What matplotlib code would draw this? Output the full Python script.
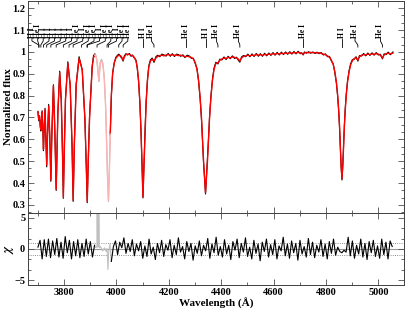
import numpy as np
import matplotlib.pyplot as plt
from matplotlib.ticker import MultipleLocator, AutoMinorLocator

plt.rcParams['font.family'] = ['Liberation Serif', 'DejaVu Serif']
plt.rcParams['font.weight'] = 'bold'
plt.rcParams['mathtext.fontset'] = 'stix'

# spectrum: wavelength, model fit (red), observed (black); nan = gap for excluded region
lam = [3701, 3704, 3707, 3710, 3712, 3714, 3717, 3720, 3722, 3724,
       3728, 3731, 3734.4, 3737, 3742, 3746, 3750.2, 3754, 3760, 3765,
       3768, 3770.6, 3773, 3777, 3784, 3790, 3795, 3797.9, 3801, 3806,
       3815, 3824, 3831, 3835.4, 3840, 3847, 3858, 3870, 3880, 3885,
       3889.1, 3893, 3898, 3908, 3913, 3918, np.nan,
       3977, 3981, 3986, 3992, 3998, 4004, 4010, 4016, 4021, 4026,
       4031, 4037, 4043, 4050, 4056, 4062, 4069, 4075, 4080, 4085,
       4090, 4094, 4097, 4099.5, 4101.7, 4104, 4107, 4110, 4114, 4119,
       4124, 4130, 4137, 4144, 4151, 4158, 4166, 4174, 4182, 4190,
       4198, 4206, 4214, 4222, 4230, 4238, 4246, 4254, 4262, 4270,
       4278, 4286, 4294, 4301, 4308, 4314, 4320, 4325, 4329, 4333,
       4337, 4340.5, 4344, 4348, 4352, 4356, 4361, 4367, 4373, 4380,
       4387.9, 4395, 4403, 4411, 4419, 4427, 4435, 4443, 4451, 4459,
       4465, 4471.5, 4478, 4486, 4494, 4502, 4510, 4518, 4526, 4534,
       4542, 4550, 4558, 4566, 4574, 4582, 4590, 4598, 4606, 4614,
       4622, 4630, 4638, 4646, 4654, 4662, 4670, 4678, 4686, 4694,
       4702, 4708, 4713, 4718, 4726, 4734, 4742, 4750, 4758, 4766,
       4774, 4782, 4790, 4798, 4806, 4814, 4821, 4828, 4834, 4840,
       4845, 4849, 4852, 4855, 4858, 4861.3, 4864.5, 4867.5, 4870.5, 4873.5,
       4877.5, 4882.5, 4888.5, 4894.5, 4901, 4908, 4915, 4921.9, 4928, 4936,
       4944, 4952, 4960, 4968, 4976, 4984, 4992, 5000, 5008, 5015.7,
       5022, 5030, 5038, 5046, 5056]
fit = [0.725, 0.690, 0.705, 0.660, 0.643, 0.680, 0.725, 0.640, 0.555, 0.620,
       0.735, 0.620, 0.483, 0.600, 0.752, 0.620, 0.414, 0.620, 0.845, 0.660,
       0.500, 0.372, 0.500, 0.720, 0.905, 0.780, 0.520, 0.335, 0.520, 0.780,
       0.948, 0.850, 0.580, 0.320, 0.580, 0.850, 0.970, 0.920, 0.700, 0.500,
       0.315, 0.500, 0.700, 0.930, 0.975, 0.985, np.nan,
       0.620, 0.800, 0.900, 0.950, 0.970, 0.980, 0.985, 0.983, 0.975, 0.962,
       0.978, 0.988, 0.990, 0.988, 0.985, 0.982, 0.975, 0.960, 0.930, 0.870,
       0.770, 0.650, 0.535, 0.420, 0.337, 0.420, 0.535, 0.650, 0.770, 0.870,
       0.930, 0.958, 0.967, 0.958, 0.972, 0.980, 0.983, 0.985, 0.982, 0.986,
       0.988, 0.985, 0.987, 0.984, 0.986, 0.983, 0.985, 0.982, 0.978, 0.980,
       0.978, 0.975, 0.968, 0.952, 0.920, 0.870, 0.790, 0.700, 0.600, 0.500,
       0.420, 0.356, 0.420, 0.500, 0.600, 0.700, 0.790, 0.870, 0.920, 0.948,
       0.950, 0.962, 0.968, 0.972, 0.970, 0.975, 0.973, 0.977, 0.975, 0.972,
       0.968, 0.958, 0.972, 0.980, 0.982, 0.985, 0.982, 0.986, 0.983, 0.988,
       0.985, 0.987, 0.984, 0.989, 0.986, 0.990, 0.988, 0.992, 0.989, 0.993,
       0.990, 0.994, 0.992, 0.995, 0.993, 0.996, 0.994, 0.997, 0.995, 0.998,
       0.996, 0.993, 0.990, 0.995, 0.998, 0.996, 0.998, 0.996, 0.997, 0.995,
       0.996, 0.993, 0.990, 0.987, 0.982, 0.975, 0.962, 0.942, 0.910, 0.862,
       0.800, 0.730, 0.660, 0.570, 0.480, 0.420, 0.480, 0.570, 0.660, 0.730,
       0.800, 0.862, 0.910, 0.942, 0.960, 0.970, 0.973, 0.962, 0.978, 0.985,
       0.988, 0.986, 0.990, 0.988, 0.991, 0.989, 0.992, 0.990, 0.985, 0.972,
       0.986, 0.992, 0.994, 0.991, 0.995]
obs = [0.728, 0.685, 0.708, 0.655, 0.638, 0.684, 0.731, 0.633, 0.548, 0.624,
       0.742, 0.615, 0.474, 0.604, 0.760, 0.615, 0.408, 0.626, 0.850, 0.655,
       0.494, 0.366, 0.505, 0.726, 0.912, 0.774, 0.513, 0.330, 0.525, 0.786,
       0.955, 0.846, 0.572, 0.316, 0.586, 0.855, 0.978, 0.915, 0.694, 0.494,
       0.310, 0.506, 0.707, 0.936, 0.982, 0.992, np.nan,
       0.626, 0.795, 0.905, 0.948, 0.975, 0.984, 0.990, 0.978, 0.972, 0.958,
       0.983, 0.992, 0.986, 0.993, 0.980, 0.986, 0.971, 0.963, 0.925, 0.866,
       0.764, 0.644, 0.529, 0.414, 0.332, 0.426, 0.541, 0.656, 0.776, 0.875,
       0.936, 0.963, 0.972, 0.952, 0.978, 0.985, 0.978, 0.990, 0.986, 0.981,
       0.993, 0.980, 0.992, 0.979, 0.990, 0.987, 0.980, 0.987, 0.974, 0.985,
       0.982, 0.971, 0.971, 0.947, 0.924, 0.866, 0.785, 0.695, 0.594, 0.494,
       0.414, 0.350, 0.426, 0.506, 0.606, 0.706, 0.796, 0.875, 0.926, 0.953,
       0.945, 0.967, 0.963, 0.977, 0.965, 0.980, 0.969, 0.982, 0.970, 0.976,
       0.963, 0.953, 0.977, 0.984, 0.978, 0.990, 0.978, 0.991, 0.979, 0.993,
       0.980, 0.992, 0.980, 0.994, 0.982, 0.995, 0.984, 0.997, 0.985, 0.998,
       0.986, 0.999, 0.988, 1.000, 0.989, 1.001, 0.990, 1.002, 0.991, 1.003,
       0.992, 0.996, 0.986, 1.000, 0.994, 1.001, 0.994, 1.000, 0.993, 0.999,
       0.992, 0.997, 0.986, 0.991, 0.978, 0.979, 0.958, 0.945, 0.905, 0.857,
       0.794, 0.724, 0.654, 0.564, 0.474, 0.414, 0.486, 0.576, 0.666, 0.736,
       0.806, 0.868, 0.915, 0.947, 0.965, 0.966, 0.978, 0.958, 0.983, 0.981,
       0.993, 0.982, 0.995, 0.984, 0.996, 0.985, 0.997, 0.986, 0.989, 0.968,
       0.991, 0.988, 0.999, 0.987, 1.000]

# region excluded from the fit (Ca II K + H epsilon), drawn pale
excl_lam = [3918, 3922, 3926, 3929, 3931, 3933.7, 3936, 3939, 3944, 3949,
            3954, 3959, 3963, 3966, 3970.1, 3973, 3977]
excl_fit = [0.985, 0.982, 0.960, 0.930, 0.900, 0.870, 0.905, 0.950, 0.960, 0.940,
            0.880, 0.760, 0.590, 0.450, 0.320, 0.430, 0.620]
excl_obs = [0.992, 0.985, 0.958, 0.925, 0.893, 0.865, 0.910, 0.955, 0.966, 0.945,
            0.884, 0.755, 0.585, 0.445, 0.315, 0.436, 0.626]

# residuals (chi) on an 8 A grid, nan inside excluded region
res_lam = np.arange(3701, 5054, 8)
res = [0.3, 1.4, -1.6, 1.5, -1.2, 1.6, -1.4, 1.3, -0.9, 1.7,
       -1.3, 1.1, -1.5, 2.0, -0.6, 1.4, -1.6, 1.2, -1.1, 1.5,
       -1.4, 0.9, -1.2, 1.6, -0.8, 1.2, -1.3, 0.6,
       np.nan, np.nan, np.nan, np.nan, np.nan, np.nan, np.nan,
       -2.0, 0.4, 1.3, -0.9, 1.1,
       0.2, 1.8, -0.7, 0.9, -0.4, 1.5, -1.1, 0.8, -0.3, 1.2,
       -1.5, 0.5, -1.2, 1.6, -0.8, 0.3, -1.7, 0.9, -0.6, 1.4,
       -1.2, 0.7, -0.2, 1.5, -1.4, 0.6, -0.9, 1.8, -0.5, 0.4,
       -1.6, 1.2, -0.4, 0.9, -1.8, 0.5, -0.7, 1.3, -1.1, 0.6,
       -0.3, 1.7, -1.5, 0.8, -0.6, 1.9, -1.0, 0.4, -1.3, 1.5,
       -0.8, 0.6, -1.7, 1.2, -0.2, 1.6, -1.4, 0.9, -0.5, 1.8,
       -1.2, 0.3, -1.6, 1.4, -0.7, 0.8, -1.9, 1.1, -0.4, 1.6,
       -1.3, 0.7, -0.9, 1.5, -1.6, 0.5, -0.3, 1.9, -1.1, 0.8,
       -1.5, 1.3, -0.6, 0.9, -1.8, 1.4, -0.8, 0.4, -1.3, 1.7,
       -0.9, 1.1, -1.4, 0.6, -0.5, 1.5, -1.2, 0.8, -1.6, 1.2,
       -0.7, 1.6, -1.0, 0.3, -0.4, -0.6, -0.2, -0.5, 1.9, -1.1,
       1.3, -1.5, 0.6, -0.8, 1.6, -1.3, 0.9, -1.7, 1.2, -0.6,
       1.4, -1.2, 0.5, -1.5, 1.6, -0.9, 1.1, -1.6, 1.3, 0.4]
excl_res_lam = [3917, 3922, 3926, 3927, 3929, 3932, 3933, 3935, 3940, 3948,
                3955, 3961, 3965, 3968, 3971, 3976, 3981]
excl_res = [0.6, 0.2, 0.4, 8.0, 0.3, 0.5, 8.0, 0.2, 0.4, -0.3,
            0.2, -0.4, 0.1, -3.3, -0.5, 0.8, -2.0]

# line identifications: name, line wavelength, label wavelength
line_names = ['H I', 'He I', 'H I', 'H I', 'H I', 'H I', 'H I', 'H I', 'He I',
              'H I', 'He I', 'He I', 'H I', 'He I', 'He I', 'H I', 'He I', 'He I',
              'H I', 'He I', 'He I', 'H I', 'He I', 'He I', 'He I', 'H I', 'He I', 'He I']
line_lam = [3703.9, 3705.0, 3712.0, 3721.9, 3734.4, 3750.2, 3770.6, 3797.9, 3819.6,
            3835.4, 3867.5, 3888.6, 3889.1, 3926.5, 3964.7, 3970.1, 4009.3, 4026.2,
            4101.7, 4143.8, 4267.0, 4340.5, 4387.9, 4471.5, 4713.1, 4861.3, 4921.9, 5015.7]
label_lam = [3678, 3700, 3721, 3743, 3764, 3786, 3807, 3829, 3850,
             3872, 3893, 3915, 3936, 3958, 3979, 4001, 4022, 4044,
             4101.7, 4134, 4267.0, 4340.5, 4382, 4466, 4713.1, 4861.3, 4911, 5008]

fig = plt.figure(figsize=(4.07, 3.11), dpi=100)
ax = fig.add_axes([28 / 407, 1 - 213 / 311, 376 / 407, 212 / 311])
axr = fig.add_axes([28 / 407, 1 - 285 / 311, 376 / 407, 72 / 311], sharex=ax)

ax.plot(lam, obs, color='black', lw=0.8)
ax.plot(lam, fit, color='red', lw=1.0)
ax.plot(excl_lam, excl_obs, color='0.7', lw=0.8)
ax.plot(excl_lam, excl_fit, color='#ffb3b3', lw=1.0)

for name, l0, lt in zip(line_names, line_lam, label_lam):
    ax.text(lt, 1.063, name, rotation=90, ha='center', va='bottom',
            fontsize=5.5, fontweight='bold')
    ax.plot([lt, lt, l0, l0], [1.061, 1.050, 1.032, 1.022], color='black', lw=0.6)

ax.set_xlim(3663, 5098)
ax.set_ylim(0.263, 1.233)
ax.set_yticks([0.3, 0.4, 0.5, 0.6, 0.7, 0.8, 0.9, 1.0, 1.1, 1.2])
ax.set_yticklabels(['0.3', '0.4', '0.5', '0.6', '0.7', '0.8', '0.9', '1', '1.1', '1.2'])
ax.yaxis.set_minor_locator(AutoMinorLocator(3))
ax.set_ylabel('Normalized flux', fontsize=8, fontweight='bold')
ax.yaxis.set_label_coords(-0.04, 0.5)
ax.tick_params(labelbottom=False)

axr.axhline(0, color='0.6', lw=0.8, zorder=0)
axr.axhline(1, color='0.4', lw=0.6, ls=':')
axr.axhline(-1, color='0.4', lw=0.6, ls=':')
axr.plot(excl_res_lam, excl_res, color='0.75', lw=0.8)
axr.plot(res_lam, res, color='black', lw=0.8)
axr.set_ylim(-5.8, 5.8)
axr.set_yticks([-5, 0, 5])
axr.yaxis.set_minor_locator(AutoMinorLocator(3))
axr.xaxis.set_major_locator(MultipleLocator(200))
axr.xaxis.set_minor_locator(MultipleLocator(100))
axr.set_ylabel(r'$\chi$', fontsize=9)
axr.yaxis.set_label_coords(-0.033, 0.5)
axr.set_xlabel('Wavelength (Å)', fontsize=8, fontweight='bold', labelpad=1)

for a in (ax, axr):
    a.tick_params(which='both', direction='in', top=True, right=True,
                  labelsize=7.5, width=0.6, color='0.3', pad=2)
    a.tick_params(which='major', length=4.5)
    a.tick_params(which='minor', length=2.5)
    for s in a.spines.values():
        s.set_linewidth(0.7)
        s.set_color('0.25')

fig.savefig('out.png', dpi=100)
